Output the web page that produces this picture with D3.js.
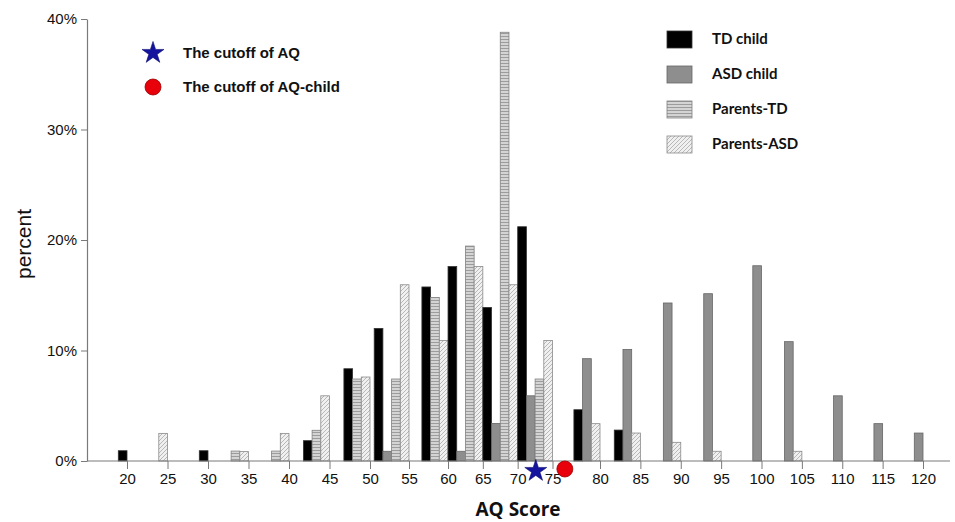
<!DOCTYPE html>
<html>
<head>
<meta charset="utf-8">
<script src="https://cdn.jsdelivr.net/npm/d3@7"></script>
<style>
  html, body { margin: 0; padding: 0; background: #fff; }
  svg { display: block; }
</style>
</head>
<body>
<div id="chart"></div>
<script>
// AQ score bins (upper edge of each 5-point bin)
const bins = [20, 25, 30, 35, 40, 45, 50, 55, 60, 65, 70, 75, 80, 85, 90, 95, 100, 105, 110, 115, 120];

// percent of each group per bin
const tdChild    = [0.93, 0, 0.93, 0, 0, 1.84, 8.35, 12.0, 15.75, 17.6, 13.9, 21.2, 4.64, 2.8, 0, 0, 0, 0, 0, 0, 0];
const asdChild   = [0, 0, 0, 0, 0, 0, 0, 0.88, 0, 0.88, 3.4, 5.9, 9.26, 10.1, 14.3, 15.14, 17.67, 10.8, 5.9, 3.38, 2.53];
const parentsTD  = [0, 0, 0, 0.9, 0.9, 2.78, 7.42, 7.42, 14.8, 19.45, 38.8, 7.42, 0, 0, 0, 0, 0, 0, 0, 0, 0];
const parentsASD = [0, 2.5, 0, 0.85, 2.5, 5.9, 7.6, 15.95, 10.9, 17.6, 15.95, 10.9, 3.38, 2.53, 1.69, 0.88, 0, 0.88, 0, 0, 0];

const seriesNames = ["TD child", "ASD child", "Parents-TD", "Parents-ASD"];
const yTicks = [0, 10, 20, 30, 40];

// cutoff markers on the score axis
const cutoffNames = ["The cutoff of AQ", "The cutoff of AQ-child"];
const cutoffScores = [72.6, 76.3];

const width = 955;
const height = 522;

const svg = d3.select("#chart").append("svg")
    .attr("width", width)
    .attr("height", height)
    .attr("viewBox", [0, 0, width, height]);

const defs = svg.append("defs");

// horizontal line fill for Parents-TD
const hl = defs.append("pattern")
    .attr("id", "hlines")
    .attr("patternUnits", "userSpaceOnUse")
    .attr("width", 4)
    .attr("height", 3);
hl.append("rect").attr("width", 4).attr("height", 3).attr("fill", "#d4d4d4");
hl.append("line").attr("x1", 0).attr("x2", 4).attr("y1", 0.5).attr("y2", 0.5)
    .attr("stroke", "#9c9c9c").attr("stroke-width", 1);

// diagonal hatch for Parents-ASD
const dg = defs.append("pattern")
    .attr("id", "diag")
    .attr("patternUnits", "userSpaceOnUse")
    .attr("width", 4)
    .attr("height", 4);
dg.append("rect").attr("width", 4).attr("height", 4).attr("fill", "#f0f0f0");
dg.append("path").attr("d", "M-1,1 l2,-2 M0,4 l4,-4 M3,5 l2,-2")
    .attr("stroke", "#a9a9a9").attr("stroke-width", 0.8);

const fills = ["#000000", "#8e8e8e", "url(#hlines)", "url(#diag)"];
const strokes = ["#333333", "#666666", "#808080", "#8a8a8a"];

// score axis is slightly uneven in the original, so use a piecewise scale
const x = d3.scaleLinear()
    .domain([20, 50, 60, 75, 80, 120])
    .range([127, 370, 448, 552.5, 600, 923]);

const y = d3.scaleLinear()
    .domain([0, 40])
    .range([461, 19]);

const barWidth = 8.7;

// build bars: zero-valued series are skipped and each group is right-aligned to its bin edge
const allSeries = [tdChild, asdChild, parentsTD, parentsASD];
const bars = [];
bins.forEach((b, i) => {
    const present = allSeries
        .map((s, k) => ({ k, v: s[i] }))
        .filter(d => d.v > 0);
    present.forEach((d, j) => {
        bars.push({ bin: b, series: d.k, value: d.v, slot: j, count: present.length });
    });
});

svg.append("g")
    .selectAll("rect")
    .data(bars)
    .join("rect")
    .attr("x", d => x(d.bin) - (d.count - d.slot) * barWidth)
    .attr("y", d => y(d.value))
    .attr("width", barWidth)
    .attr("height", d => y(0) - y(d.value))
    .attr("fill", d => fills[d.series])
    .attr("stroke", d => strokes[d.series])
    .attr("stroke-width", 0.8);

// axes
const axisColor = "#7a7a7a";

const xAxis = svg.append("g")
    .attr("transform", `translate(0,${y(0)})`)
    .call(d3.axisBottom(x).tickValues(bins).tickSize(8).tickSizeOuter(0).tickPadding(4));
xAxis.select(".domain").remove();
xAxis.selectAll("line").attr("stroke", axisColor);
xAxis.selectAll("text")
    .attr("fill", "#111")
    .style("font-family", "'Liberation Sans Narrow', 'Arial Narrow', 'Liberation Sans', sans-serif")
    .style("font-size", "15px");
xAxis.append("line")
    .attr("x1", 87 - 0)
    .attr("x2", 950)
    .attr("stroke", axisColor)
    .attr("stroke-width", 1.2);

const yAxis = svg.append("g")
    .attr("transform", "translate(87,0)")
    .call(d3.axisLeft(y).tickValues(yTicks).tickFormat(d => d + "%").tickSize(6).tickSizeOuter(0).tickPadding(4));
yAxis.select(".domain").attr("stroke", axisColor).attr("stroke-width", 1.2);
yAxis.selectAll("line").attr("stroke", axisColor);
yAxis.selectAll("text")
    .attr("fill", "#111")
    .style("font-family", "'Liberation Sans', Arial, sans-serif")
    .style("font-size", "15px");

// axis titles
svg.append("text")
    .attr("transform", `translate(31,${(y(0) + y(40)) / 2 + 4}) rotate(-90)`)
    .attr("text-anchor", "middle")
    .style("font-family", "'Liberation Sans', Arial, sans-serif")
    .style("font-size", "21px")
    .attr("fill", "#111")
    .text("percent");

svg.append("text")
    .attr("x", 518)
    .attr("y", 516)
    .attr("text-anchor", "middle")
    .style("font-family", "'Open Sans', sans-serif")
    .style("font-weight", "bold")
    .style("font-size", "19px")
    .attr("fill", "#111")
    .text("AQ Score");

// cutoff markers
const star = d3.symbol().type(d3.symbolStar).size(150);
const markerFill = ["#14149e", "#e8000b"];
const markerStroke = ["#0c0c70", "#9a0000"];

svg.append("path")
    .attr("d", star())
    .attr("transform", `translate(${x(cutoffScores[0])},471)`)
    .attr("fill", markerFill[0])
    .attr("stroke", markerStroke[0])
    .attr("stroke-width", 0.6);

svg.append("circle")
    .attr("cx", x(cutoffScores[1]))
    .attr("cy", 469)
    .attr("r", 8)
    .attr("fill", markerFill[1])
    .attr("stroke", markerStroke[1])
    .attr("stroke-width", 0.8);

// marker legend (top left)
const ml = svg.append("g").attr("transform", "translate(153,53)");
ml.append("path")
    .attr("d", star())
    .attr("fill", markerFill[0])
    .attr("stroke", markerStroke[0])
    .attr("stroke-width", 0.6);
ml.append("circle")
    .attr("cy", 34)
    .attr("r", 8)
    .attr("fill", markerFill[1])
    .attr("stroke", markerStroke[1])
    .attr("stroke-width", 0.8);
ml.selectAll("text")
    .data(cutoffNames)
    .join("text")
    .attr("x", 30)
    .attr("y", (d, i) => 5 + i * 34)
    .style("font-family", "'Liberation Sans', Arial, sans-serif")
    .style("font-weight", "bold")
    .style("font-size", "15px")
    .attr("fill", "#111")
    .text(d => d);

// series legend (top right)
const legend = svg.append("g")
    .attr("transform", "translate(667,31)")
    .selectAll("g")
    .data(seriesNames)
    .join("g")
    .attr("transform", (d, i) => `translate(0,${i * 35})`);

legend.append("rect")
    .attr("width", 25)
    .attr("height", 17)
    .attr("fill", (d, i) => fills[i])
    .attr("stroke", (d, i) => strokes[i])
    .attr("stroke-width", 0.8);

legend.append("text")
    .attr("x", 45)
    .attr("y", 13)
    .style("font-family", "Lato, 'Open Sans', sans-serif")
    .style("font-weight", "bold")
    .style("font-size", "15px")
    .attr("fill", "#111")
    .text(d => d);
</script>
</body>
</html>
